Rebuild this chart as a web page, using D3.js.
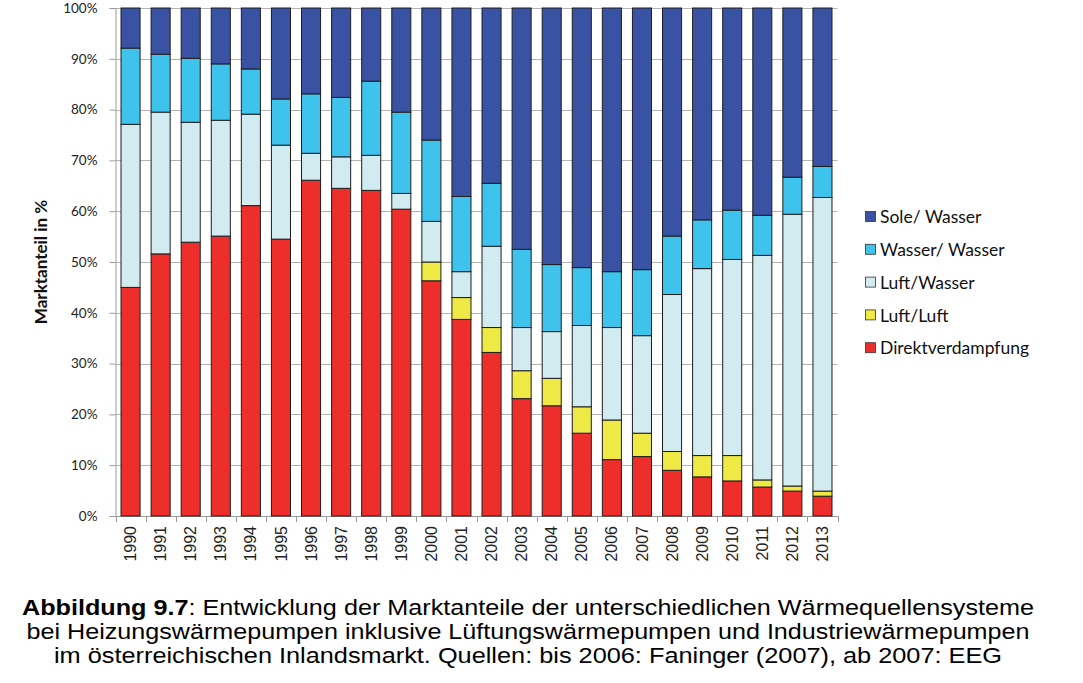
<!DOCTYPE html>
<html><head><meta charset="utf-8">
<script src="https://cdn.jsdelivr.net/npm/d3@7"></script>
<style>body{margin:0;background:#fff}svg{display:block}</style>
</head><body>
<svg id="c" width="1083" height="683"></svg>
<script>
const years = ["1990","1991","1992","1993","1994","1995","1996","1997","1998","1999","2000","2001","2002","2003","2004","2005","2006","2007","2008","2009","2010","2011","2012","2013"];
const direktverdampfung = [45.0,51.6,53.9,55.1,61.1,54.5,66.1,64.5,64.1,60.4,46.3,38.7,32.2,23.1,21.7,16.3,11.1,11.7,9.0,7.7,6.9,5.7,4.9,3.9];
const luftLuft          = [0,0,0,0,0,0,0,0,0,0,3.7,4.3,4.9,5.5,5.4,5.2,7.8,4.6,3.7,4.2,5.0,1.4,1.0,1.0];
const luftWasser        = [32.1,27.9,23.6,22.8,18.0,18.5,5.3,6.2,6.9,3.1,8.0,5.1,16.0,8.5,9.2,16.0,18.2,19.2,30.9,36.8,38.6,44.2,53.5,57.8];
const wasserWasser      = [15.0,11.4,12.6,11.1,8.9,9.1,11.7,11.7,14.6,16.0,16.0,14.8,12.4,15.4,13.2,11.4,11.0,13.0,11.5,9.6,9.7,7.9,7.3,6.1];
const soleWasser        = [7.9,9.1,9.9,11.0,12.0,17.9,16.9,17.6,14.4,20.5,26.0,37.1,34.5,47.5,50.5,51.1,51.9,51.5,44.9,41.7,39.8,40.8,33.3,31.2];
const seriesNames = ["Direktverdampfung","Luft/Luft","Luft/Wasser","Wasser/ Wasser","Sole/ Wasser"];
const seriesColors = ["#ED2E2A","#EFE946","#D2EBF0","#3DC3EC","#3A52A3"];
const yTicks = [0,0.1,0.2,0.3,0.4,0.5,0.6,0.7,0.8,0.9,1.0];
const captionLines = [
  ["Abbildung 9.7", ": Entwicklung der Marktanteile der unterschiedlichen Wärmequellensysteme"],
  ["", "bei Heizungswärmepumpen inklusive Lüftungswärmepumpen und Industriewärmepumpen"],
  ["", "im österreichischen Inlandsmarkt. Quellen: bis 2006: Faninger (2007), ab 2007: EEG"]
];
const captionWidths = [1012, 1003, 948];

const seriesArrays = [direktverdampfung, luftLuft, luftWasser, wasserWasser, soleWasser];
const table = years.map((y,i)=>{const o={year:y}; seriesNames.forEach((n,k)=>o[n]=seriesArrays[k][i]); return o;});

const svg = d3.select("#c");
const L = 115.5, R = 837.5, T = 8, B = 516;
const x = d3.scaleBand().domain(years).range([L,R]).paddingInner(1/3).paddingOuter(1/6);
const y = d3.scaleLinear().domain([0,1]).range([B,T]);
const color = d3.scaleOrdinal().domain(seriesNames).range(seriesColors);

const stack = d3.stack().keys(seriesNames).offset(d3.stackOffsetExpand);
const stacked = stack(table);

// gridlines
svg.append("g").selectAll("line").data(yTicks.slice(1)).join("line")
  .attr("x1",L).attr("x2",R).attr("y1",d=>Math.round(y(d))+0.5).attr("y2",d=>Math.round(y(d))+0.5)
  .attr("stroke","#b4b4b4").attr("stroke-width",1);

// y axis
const yAxis = d3.axisLeft(y).tickValues(yTicks).tickFormat(d3.format(".0%")).tickSize(6).tickPadding(12);
const gy = svg.append("g").attr("transform",`translate(${L},0)`).call(yAxis);
gy.select(".domain").attr("stroke","#9a9a9a");
gy.selectAll(".tick line").attr("stroke","#9a9a9a");
gy.selectAll(".tick text").attr("font-family","Lato, 'Open Sans', sans-serif").attr("font-size",13.5).attr("fill","#222");

// x axis
const xAxis = d3.axisBottom(x).tickSize(0).tickPadding(0);
const gx = svg.append("g").attr("transform",`translate(0,${B})`).call(xAxis);
gx.select(".domain").attr("stroke","#9a9a9a").attr("d",`M${L},0.5H${R}`);
gx.selectAll(".tick text").attr("font-family","'Liberation Sans', Arial, sans-serif").attr("font-size",16).attr("fill","#222")
  .attr("transform","rotate(-90)").attr("text-anchor","end").attr("dy","0.35em").attr("x",-10).attr("y",0);
// category separator ticks
const step = x.step();
svg.append("g").selectAll("line").data(d3.range(years.length+1)).join("line")
  .attr("x1",i=>Math.round(L+i*step)+0.5).attr("x2",i=>Math.round(L+i*step)+0.5)
  .attr("y1",B).attr("y2",B+6).attr("stroke","#9a9a9a");

// bars
svg.append("g").selectAll("g").data(stacked).join("g")
  .attr("fill",d=>color(d.key))
  .selectAll("rect").data(d=>d.filter(s=>s[1]-s[0]>0)).join("rect")
  .attr("x",d=>x(d.data.year)+0.5).attr("width",x.bandwidth()-1)
  .attr("y",d=>y(d[1])).attr("height",d=>y(d[0])-y(d[1]))
  .attr("stroke","#1e1e1e").attr("stroke-width",1);

// y title
svg.append("text").attr("transform","translate(47,262) rotate(-90)").attr("text-anchor","middle")
  .attr("font-family","Lato, 'Open Sans', sans-serif").attr("font-weight","bold").attr("font-size",17).attr("fill","#111")
  .text("Marktanteil in %");

// legend
const legOrder = seriesNames.slice().reverse();
const lg = svg.append("g").attr("transform","translate(865,217)");
const item = lg.selectAll("g").data(legOrder).join("g").attr("transform",(d,i)=>`translate(0,${i*32.8})`);
item.append("rect").attr("x",0.5).attr("y",-5.5).attr("width",10).attr("height",10).attr("fill",d=>color(d)).attr("stroke","#333").attr("stroke-width",0.8);
item.append("text").attr("x",15).attr("y",0).attr("dy","0.35em").attr("font-family","Lato, 'Open Sans', sans-serif").attr("font-size",17.5).attr("fill","#111").text(d=>d);

// caption
captionLines.forEach((ln,i)=>{
  const t = svg.append("text").attr("text-anchor","middle").attr("font-family","'Liberation Sans', Arial, sans-serif")
    .attr("font-size",22.5).attr("fill","#000").attr("x",528).attr("y",615+i*24)
    .attr("textLength",captionWidths[i]).attr("lengthAdjust","spacingAndGlyphs");
  if(ln[0]) t.append("tspan").attr("font-weight","bold").text(ln[0]);
  t.append("tspan").text(ln[1]);
});
</script>
</body></html>
